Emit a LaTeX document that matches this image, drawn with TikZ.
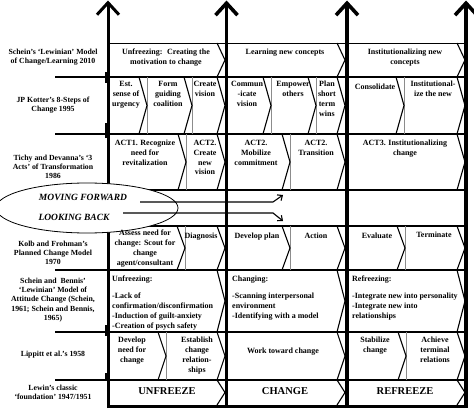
\documentclass[tikz,border=0pt]{standalone}
\usepackage{fontspec}
\setmainfont{Liberation Serif}
\usetikzlibrary{arrows.meta}

\newcommand{\cellfont}{\bfseries\fontsize{8}{9.8}\selectfont}
\newcommand{\lblfont}{\bfseries\fontsize{7.8}{9.2}\selectfont}
\newcommand{\phasefont}{\bfseries\fontsize{10.5}{12}\selectfont}
\newcommand{\bandfont}{\bfseries\itshape\fontsize{9.5}{11}\selectfont}
% chevron edge with its apex at #1, between #2 and #3
\newcommand{\chevr}[3]{\draw[chev] ({#1-8},#2) -- (#1,{(#2+#3)/2}) -- ({#1-8},#3);}

\tikzset{
  cell/.style={font=\cellfont, align=center, inner sep=0pt, anchor=north},
  lcell/.style={font=\cellfont, align=left, inner sep=0pt, anchor=north west},
  lbl/.style={font=\lblfont, align=center, inner sep=0pt},
  phase/.style={font=\phasefont, inner sep=0pt},
  bandtext/.style={font=\bandfont, inner sep=0pt},
  rowline/.style={line width=1.6pt},
  chev/.style={line width=1.1pt},
  gsep/.style={black!45, line width=0.9pt},
  stem/.style={line width=3.6pt, -{Straight Barb[length=12pt,width=22pt]}},
}

\begin{document}
\begin{tikzpicture}[x=1pt,y=-1pt,>={Straight Barb[length=4pt,width=7pt]}]
\useasboundingbox (0,0) rectangle (474,409);

% horizontal rules
\draw[line width=0.8pt] (108,43) -- (466,43);
\foreach \y in {77,134,270,332,380} \draw[rowline] (55,\y) -- (466,\y);
\foreach \y in {190,226} \draw[rowline] (108,\y) -- (466,\y);
\draw[line width=3pt] (108,406) -- (466,406);

% chevrons closing each phase
\foreach \ya/\yb in {43/77,77/134,134/190,226/270,270/332,332/380,380/405}{
  \foreach \x in {225,345,465}{\chevr{\x}{\ya}{\yb}}
}
% chevrons between steps
\foreach \x/\ya/\yb in {147/77/134,192/77/134,271/77/134,316/77/134,404/77/134,
    186/134/190,290/134/190,185/226/270,290/226/270,405/226/270,166/332/380,406/332/380}{
  \draw[gsep] (\x,\ya) -- (\x,\yb);
  \chevr{\x}{\ya}{\yb}
}

% phase arrows
\draw[stem, line width=3pt] (108,408) -- (108,0.5);
\foreach \x in {226.5,347,466} \draw[stem] (\x,408) -- (\x,0.5);
\foreach \ya/\yb in {72/83,123/138,325/336,373/381} \fill (104.5,\ya) rectangle (108,\yb);

% forward / back band
\draw[fill=white, line width=0.8pt] (87,208) ellipse (91pt and 25pt);
\node[bandtext] (fwd) at (83,197) {MOVING FORWARD};
\node[bandtext] (back) at (74,217) {LOOKING BACK};
\coordinate (fwdA) at (140,202); \coordinate (fwdB) at (273,202); \coordinate (fwdC) at (283,195);
\coordinate (backA) at (123,213); \coordinate (backB) at (273,213); \coordinate (backC) at (283,221);
\draw[line width=1.1pt,->] (fwdA) -- (fwdB) -- (fwdC);
\draw[line width=1.1pt,->] (backA) -- (backB) -- (backC);

% models
\node[lbl] (m2010) at (53,57.5) {Schein's `Lewinian' Model\\of Change/Learning 2010};
\node[lbl] (m1995) at (53,105) {JP Kotter's 8-Steps of\\Change 1995};
\node[lbl] (m1986) at (53,167) {Tichy and Devanna's `3\\Acts' of Transformation\\1986};
\node[lbl] (m1970) at (53,253) {Kolb and Frohman's\\Planned Change Model\\1970};
\node[lbl] (m1961) at (53,300) {Schein and~ Bennis'\\`Lewinian' Model of\\Attitude Change (Schein,\\1961; Schein and Bennis,\\1965)};
\node[lbl] (m1958) at (53,355) {Lippitt et al.'s 1958};
\node[lbl] (m1947) at (53,392.5) {Lewin's classic\\`foundation' 1947/1951};

% Schein 2010
\node[cell] (sUnf) at (166,49) {Unfreezing:~ Creating the\\motivation to change};
\node[cell] (sLrn) at (285,49) {Learning new concepts};
\node[cell] (sIns) at (405,49) {Institutionalizing new\\concepts};
% Kotter
\node[cell] (kUrg) at (126,81) {Est.\\sense of\\urgency};
\node[cell] (kCoa) at (168,81) {Form\\guiding\\coalition};
\node[cell] (kVis) at (205,81) {Create\\vision};
\node[cell] (kCom) at (247,81) {Commun\\-icate\\vision};
\node[cell] (kEmp) at (293,81) {Empower\\others};
\node[cell] (kWin) at (327,81) {Plan\\short\\term\\wins};
\node[cell] (kCon) at (375,84) {Consolidate};
\node[cell] (kIns) at (433,81) {Institutional-\\ize the new};
% Tichy
\node[cell] (tAct1) at (145,140) {ACT1. Recognize\\need for\\revitalization};
\node[cell] (tVis) at (205,140) {ACT2.\\Create\\new\\vision};
\node[cell] (tMob) at (256,140) {ACT2.\\Mobilize\\commitment};
\node[cell] (tTra) at (316,140) {ACT2.\\Transition};
\node[cell] (tAct3) at (405,140) {ACT3. Institutionalizing\\change};
% Kolb
\node[cell] (fAss) at (145,230) {Assess need for\\change: Scout for\\change\\agent/consultant};
\node[cell] (fDia) at (201,233) {Diagnosis};
\node[cell] (fPla) at (257,233) {Develop plan};
\node[cell] (fAct) at (316,233) {Action};
\node[cell] (fEva) at (377,233) {Evaluate};
\node[cell] (fTer) at (434,232) {Terminate};
% Schein and Bennis
\node[lcell] (bUnf) at (112,276) {Unfreezing:\\[7pt]-Lack of\\confirmation/disconfirmation\\-Induction of guilt-anxiety\\-Creation of psych safety};
\node[lcell] (bCha) at (232,276) {Changing:\\[7pt]-Scanning interpersonal\\environment\\-Identifying with a model};
\node[lcell] (bRef) at (352,276) {Refreezing:\\[7pt]-Integrate new into personality\\-Integrate new into\\relationships};
% Lippitt
\node[cell] (lNee) at (132,337) {Develop\\need for\\change};
\node[cell] (lRel) at (197,337) {Establish\\change\\relation-\\ships};
\node[cell, anchor=center] (lWor) at (283,352) {Work toward change};
\node[cell] (lSta) at (375,337) {Stabilize\\change};
\node[cell] (lAch) at (435,337) {Achieve\\terminal\\relations};
% Lewin
\node[phase] (unf) at (167,391) {UNFREEZE};
\node[phase] (cha) at (285,391) {CHANGE};
\node[phase] (ref) at (405,391) {REFREEZE};
\end{tikzpicture}
\end{document}
